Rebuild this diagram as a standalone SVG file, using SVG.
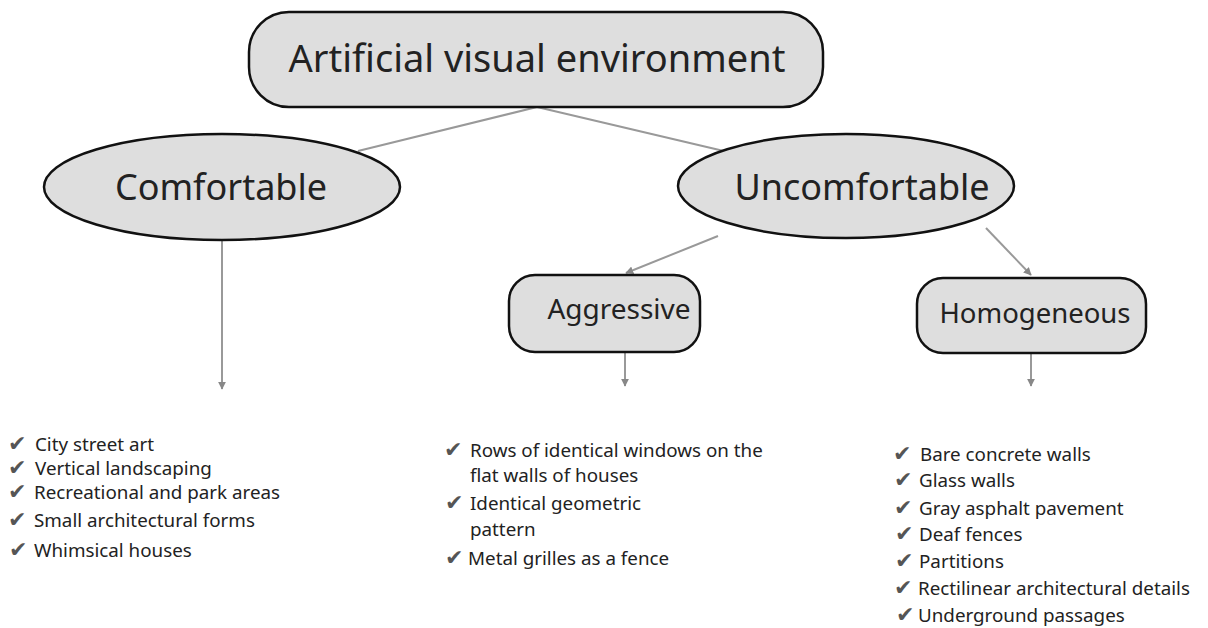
<svg xmlns="http://www.w3.org/2000/svg" width="1208" height="628" viewBox="0 0 1208 628">
<defs>
<marker id="arr" viewBox="0 0 10 10" refX="9" refY="5" markerWidth="4" markerHeight="4" orient="auto-start-reverse">
<path d="M0,0 L10,5 L0,10 z" fill="#888"/>
</marker>
<style>
.node{fill:#dedede;stroke:#111;stroke-width:2.5}
.lbl{font-family:"Noto Sans","Open Sans",sans-serif;fill:#222;text-anchor:middle}
.conn{stroke:#999;stroke-width:2;fill:none}
.arrow{marker-end:url(#arr)}
.item{font-family:"Noto Sans","Open Sans",sans-serif;font-size:18.8px;fill:#222}
.chk{font-family:"DejaVu Sans",sans-serif;font-size:22px;fill:#555}
</style>
</defs>
<rect width="1208" height="628" fill="#fff"/>
<g id="connectors">
<line class="conn" x1="537" y1="107" x2="358" y2="151"/>
<line class="conn" x1="537" y1="107" x2="728" y2="152"/>
<line class="conn arrow" x1="222" y1="240" x2="222" y2="389"/>
<line class="conn arrow" x1="718" y1="236" x2="626" y2="273"/>
<line class="conn arrow" x1="986" y1="228" x2="1031" y2="275"/>
<line class="conn arrow" x1="625" y1="353" x2="625" y2="386"/>
<line class="conn arrow" x1="1031" y1="354" x2="1031" y2="386"/>
</g>
<g id="root">
<rect class="node" x="249" y="12" width="574" height="95" rx="40"/>
<text class="lbl" x="537" y="72" font-size="38">Artificial visual environment</text>
</g>
<g id="comfortable">
<ellipse class="node" cx="222" cy="187" rx="178" ry="53"/>
<text class="lbl" x="221" y="200" font-size="36">Comfortable</text>
</g>
<g id="uncomfortable">
<ellipse class="node" cx="846" cy="186" rx="168" ry="52"/>
<text class="lbl" x="862" y="200" font-size="36">Uncomfortable</text>
</g>
<g id="aggressive">
<rect class="node" x="509" y="275" width="191" height="77" rx="26"/>
<text class="lbl" x="619" y="319" font-size="28">Aggressive</text>
</g>
<g id="homogeneous">
<rect class="node" x="917" y="278" width="229" height="75" rx="26"/>
<text class="lbl" x="1035" y="323" font-size="27.5">Homogeneous</text>
</g>
<g id="list-comfortable">
<text class="chk" x="8" y="451">✔</text><text class="item" x="35" y="451">City street art</text>
<text class="chk" x="8" y="475">✔</text><text class="item" x="35" y="475">Vertical landscaping</text>
<text class="chk" x="8" y="499">✔</text><text class="item" x="34" y="499">Recreational and park areas</text>
<text class="chk" x="8" y="527">✔</text><text class="item" x="34" y="527">Small architectural forms</text>
<text class="chk" x="9" y="557">✔</text><text class="item" x="34" y="557">Whimsical houses</text>
</g>
<g id="list-aggressive">
<text class="chk" x="444" y="457">✔</text><text class="item" x="470" y="457">Rows of identical windows on the</text>
<text class="item" x="470" y="482">flat walls of houses</text>
<text class="chk" x="445" y="510">✔</text><text class="item" x="470" y="510">Identical geometric</text>
<text class="item" x="470" y="536">pattern</text>
<text class="chk" x="445" y="565">✔</text><text class="item" x="468" y="565">Metal grilles as a fence</text>
</g>
<g id="list-homogeneous">
<text class="chk" x="893" y="461">✔</text><text class="item" x="920" y="461">Bare concrete walls</text>
<text class="chk" x="894" y="487">✔</text><text class="item" x="919" y="487">Glass walls</text>
<text class="chk" x="894" y="515">✔</text><text class="item" x="919" y="515">Gray asphalt pavement</text>
<text class="chk" x="895" y="541">✔</text><text class="item" x="919" y="541">Deaf fences</text>
<text class="chk" x="895" y="568">✔</text><text class="item" x="919" y="568">Partitions</text>
<text class="chk" x="894" y="595">✔</text><text class="item" x="918" y="595">Rectilinear architectural details</text>
<text class="chk" x="896" y="622">✔</text><text class="item" x="918" y="622">Underground passages</text>
</g>
</svg>
